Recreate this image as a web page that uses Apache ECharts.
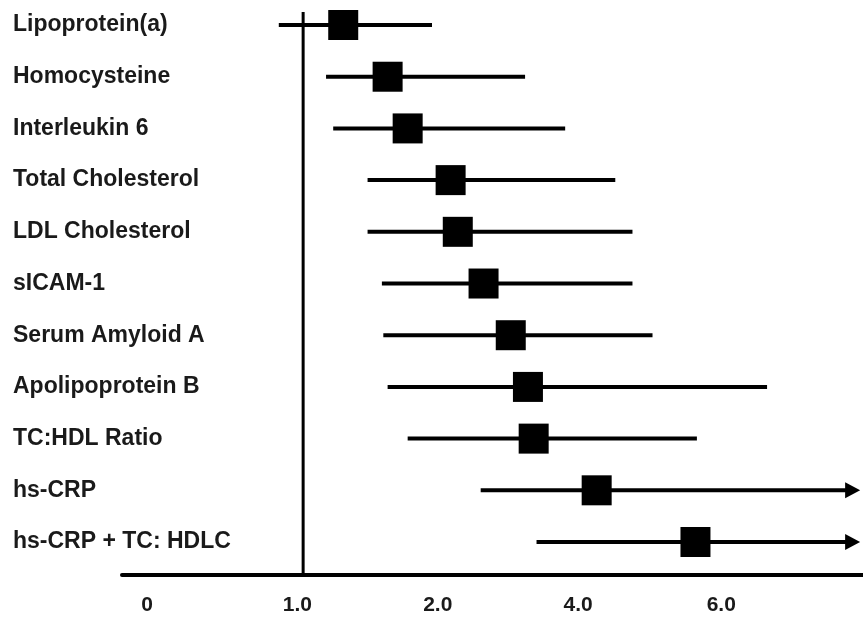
<!DOCTYPE html>
<html>
<head>
<meta charset="utf-8">
<script src="https://cdn.jsdelivr.net/npm/echarts@6/dist/echarts.min.js"></script>
<style>
  html, body { margin: 0; padding: 0; background: #fff; }
  #main { width: 863px; height: 621px; }
</style>
</head>
<body>
<div id="main"></div>
<script>
// rows, top to bottom
var markers = ['Lipoprotein(a)', 'Homocysteine', 'Interleukin 6', 'Total Cholesterol',
  'LDL Cholesterol', 'sICAM-1', 'Serum Amyloid A', 'Apolipoprotein B',
  'TC:HDL Ratio', 'hs-CRP', 'hs-CRP + TC: HDLC'];

// values in axis position units (label "0" at 0, "6.0" near 4)
var lower = [0.92, 1.25, 1.30, 1.54, 1.54, 1.64, 1.65, 1.68, 1.82, 2.33, 2.72];
var estimate = [1.37, 1.68, 1.82, 2.12, 2.17, 2.35, 2.54, 2.66, 2.70, 3.14, 3.83];
var upper = [1.99, 2.64, 2.92, 3.27, 3.39, 3.39, 3.53, 4.33, 3.84, 4.98, 4.98];
var openEnded = [0, 0, 0, 0, 0, 0, 0, 0, 0, 1, 1];

// x tick labels and where they sit
var tickPos = [0, 1.05, 2.03, 3.01, 4.01];
var tickLabels = ['0', '1.0', '2.0', '4.0', '6.0'];
var refValue = 1.09;

var font = '"Liberation Sans", Arial, sans-serif';

var rows = markers.map(function (m, i) {
  return [lower[i], estimate[i], upper[i], openEnded[i], i];
});

function renderRow(params, api) {
  var y = api.value(4);
  var a = api.coord([api.value(0), y]);
  var m = api.coord([api.value(1), y]);
  var b = api.coord([api.value(2), y]);
  var kids = [{
    type: 'line',
    shape: { x1: a[0], y1: a[1], x2: b[0] - (api.value(3) ? 10 : 0), y2: b[1] },
    style: { stroke: '#000', lineWidth: 4 }
  }, {
    type: 'rect',
    shape: { x: m[0] - 15, y: m[1] - 15, width: 30, height: 30 },
    style: { fill: '#000' }
  }];
  if (api.value(3)) {
    kids.push({
      type: 'polygon',
      shape: { points: [[b[0], b[1]], [b[0] - 15, b[1] - 8], [b[0] - 15, b[1] + 8]] },
      style: { fill: '#000' }
    });
  }
  return { type: 'group', children: kids };
}

var chart = echarts.init(document.getElementById('main'));
chart.setOption({
  backgroundColor: '#fff',
  animation: false,
  grid: { left: 122, right: 0, top: 0, bottom: 46 },
  xAxis: {
    type: 'value',
    min: -0.175,
    max: 5.0,
    splitLine: { show: false },
    axisTick: { show: false },
    axisLine: { show: true, onZero: false, lineStyle: { color: '#000', width: 4 } },
    axisLabel: {
      customValues: tickPos,
      margin: 20,
      fontFamily: font,
      fontWeight: 'bold',
      fontSize: 21,
      color: '#1a1a1a',
      formatter: function (v) {
        var k = tickPos.indexOf(v);
        return k >= 0 ? tickLabels[k] : '';
      }
    }
  },
  yAxis: {
    type: 'value',
    inverse: true,
    min: -0.484,
    max: 10.638,
    splitLine: { show: false },
    axisTick: { show: false },
    axisLine: { show: false },
    axisLabel: {
      customValues: markers.map(function (m, i) { return i; }),
      align: 'left',
      margin: 109,
      fontFamily: font,
      fontWeight: 'bold',
      fontSize: 23,
      color: '#1a1a1a',
      formatter: function (v) { return markers[v] || ''; }
    }
  },
  series: [{
    type: 'line',
    data: [[refValue, -0.25], [refValue, 10.638]],
    symbol: 'none',
    lineStyle: { color: '#000', width: 3 },
    silent: true
  }, {
    type: 'custom',
    renderItem: renderRow,
    data: rows,
    encode: { x: [0, 1, 2], y: 4 },
    silent: true
  }]
});
</script>
</body>
</html>
